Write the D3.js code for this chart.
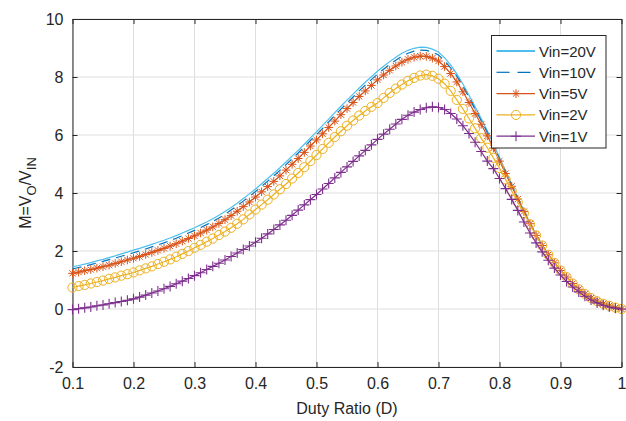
<!DOCTYPE html>
<html>
<head>
<meta charset="utf-8">
<script src="https://cdn.jsdelivr.net/npm/d3@7"></script>
<style>
  body { margin: 0; background: #fff; }
  text { font-family: "Liberation Sans", Arial, sans-serif; fill: #262626; }
</style>
</head>
<body>
<div id="chart"></div>
<script>
// duty ratio samples
var duty = [0.10,0.11,0.12,0.13,0.14,0.15,0.16,0.17,0.18,0.19,
  0.20,0.21,0.22,0.23,0.24,0.25,0.26,0.27,0.28,0.29,
  0.30,0.31,0.32,0.33,0.34,0.35,0.36,0.37,0.38,0.39,
  0.40,0.41,0.42,0.43,0.44,0.45,0.46,0.47,0.48,0.49,
  0.50,0.51,0.52,0.53,0.54,0.55,0.56,0.57,0.58,0.59,
  0.60,0.61,0.62,0.63,0.64,0.65,0.66,0.67,0.68,0.69,
  0.70,0.71,0.72,0.73,0.74,0.75,0.76,0.77,0.78,0.79,
  0.80,0.81,0.82,0.83,0.84,0.85,0.86,0.87,0.88,0.89,
  0.90,0.91,0.92,0.93,0.94,0.95,0.96,0.97,0.98,0.99,1.00];

var vin20 = [1.45,1.50,1.55,1.60,1.66,1.71,1.77,1.83,1.90,1.96,
  2.03,2.09,2.16,2.23,2.30,2.37,2.45,2.53,2.62,2.71,
  2.80,2.90,3.00,3.11,3.23,3.36,3.50,3.65,3.81,3.97,
  4.14,4.32,4.50,4.68,4.87,5.07,5.27,5.47,5.68,5.90,
  6.11,6.33,6.55,6.77,6.99,7.20,7.41,7.62,7.82,8.01,
  8.20,8.37,8.53,8.68,8.82,8.92,8.99,9.03,9.02,8.96,
  8.86,8.66,8.41,8.11,7.76,7.37,6.97,6.57,6.15,5.69,
  5.22,4.76,4.30,3.84,3.40,2.96,2.56,2.20,1.88,1.60,
  1.34,1.10,0.88,0.68,0.52,0.38,0.27,0.18,0.11,0.05,0.00];

var vin10 = [1.38,1.43,1.48,1.53,1.59,1.64,1.70,1.76,1.82,1.88,
  1.94,2.00,2.07,2.14,2.21,2.28,2.36,2.44,2.53,2.62,
  2.71,2.81,2.91,3.02,3.14,3.27,3.41,3.56,3.72,3.88,
  4.05,4.23,4.41,4.59,4.78,4.98,5.18,5.38,5.59,5.81,
  6.01,6.23,6.45,6.67,6.89,7.10,7.31,7.52,7.72,7.91,
  8.10,8.27,8.43,8.58,8.72,8.82,8.89,8.93,8.92,8.86,
  8.76,8.56,8.31,8.03,7.68,7.29,6.89,6.49,6.09,5.64,
  5.18,4.73,4.28,3.82,3.39,2.96,2.56,2.20,1.88,1.60,
  1.34,1.10,0.88,0.68,0.52,0.38,0.27,0.18,0.11,0.05,0.00];

var vin5 = [1.23,1.27,1.32,1.36,1.41,1.46,1.51,1.57,1.63,1.69,
  1.75,1.81,1.88,1.95,2.02,2.09,2.17,2.25,2.34,2.43,
  2.52,2.62,2.72,2.83,2.95,3.08,3.22,3.37,3.53,3.69,
  3.86,4.04,4.22,4.40,4.59,4.79,4.99,5.19,5.40,5.62,
  5.83,6.04,6.26,6.48,6.70,6.91,7.12,7.33,7.52,7.71,
  7.90,8.07,8.23,8.38,8.51,8.61,8.68,8.72,8.71,8.65,
  8.55,8.36,8.12,7.83,7.49,7.12,6.74,6.37,5.97,5.55,
  5.10,4.67,4.23,3.79,3.36,2.94,2.54,2.19,1.87,1.59,
  1.33,1.10,0.88,0.68,0.52,0.38,0.27,0.18,0.11,0.05,0.00];

var vin2 = [0.74,0.79,0.83,0.88,0.93,0.98,1.04,1.09,1.15,1.20,
  1.26,1.33,1.40,1.47,1.55,1.63,1.71,1.80,1.90,2.00,
  2.11,2.21,2.32,2.43,2.55,2.67,2.80,2.94,3.09,3.26,
  3.43,3.60,3.77,3.95,4.13,4.31,4.50,4.69,4.89,5.10,
  5.31,5.52,5.73,5.93,6.13,6.32,6.50,6.67,6.83,6.97,
  7.10,7.28,7.45,7.60,7.74,7.87,7.97,8.05,8.08,8.04,
  7.94,7.77,7.52,7.21,6.90,6.57,6.23,5.89,5.56,5.21,
  4.86,4.47,4.07,3.68,3.30,2.92,2.54,2.19,1.87,1.59,
  1.33,1.10,0.88,0.68,0.52,0.38,0.27,0.18,0.11,0.05,0.00];

var vin1 = [-0.02,0.01,0.04,0.07,0.11,0.14,0.18,0.22,0.26,0.30,
  0.35,0.41,0.48,0.55,0.62,0.70,0.78,0.87,0.96,1.05,
  1.15,1.25,1.36,1.47,1.58,1.69,1.81,1.93,2.05,2.17,
  2.30,2.44,2.59,2.74,2.90,3.06,3.23,3.41,3.59,3.77,
  3.95,4.14,4.33,4.52,4.71,4.90,5.09,5.28,5.47,5.66,
  5.85,6.03,6.20,6.38,6.54,6.68,6.79,6.88,6.94,6.97,
  6.95,6.88,6.74,6.55,6.32,6.05,5.75,5.43,5.10,4.84,
  4.50,4.15,3.78,3.40,3.00,2.62,2.28,1.97,1.68,1.41,
  1.17,0.95,0.76,0.59,0.44,0.31,0.21,0.13,0.07,0.03,0.00];

var seriesNames = ["Vin=20V", "Vin=10V", "Vin=5V", "Vin=2V", "Vin=1V"];
var seriesValues = [vin20, vin10, vin5, vin2, vin1];
var seriesColors = ["#4DBEEE", "#0072BD", "#D95319", "#EDB120", "#7E2F8E"];
var seriesMarkers = ["none", "none", "star", "circle", "plus"];

var xTicks = [0.1,0.2,0.3,0.4,0.5,0.6,0.7,0.8,0.9,1];
var yTicks = [-2,0,2,4,6,8,10];
var xTickLabels = ["0.1","0.2","0.3","0.4","0.5","0.6","0.7","0.8","0.9","1"];
var yTickLabels = ["-2","0","2","4","6","8","10"];

var W = 626, H = 421;
var margin = { top: 19, right: 4.5, bottom: 54, left: 72.5 };
var width = W - margin.left - margin.right;
var height = H - margin.top - margin.bottom;

var svg = d3.select("#chart").append("svg")
    .attr("width", W)
    .attr("height", H);

var g = svg.append("g")
    .attr("transform", "translate(" + margin.left + "," + margin.top + ")");

var x = d3.scaleLinear().domain([0.1, 1]).range([0, width]);
var y = d3.scaleLinear().domain([-2, 10]).range([height, 0]);

// grid
g.append("g").selectAll("line").data(xTicks).enter().append("line")
    .attr("x1", function(d) { return x(d); }).attr("x2", function(d) { return x(d); })
    .attr("y1", 0).attr("y2", height)
    .attr("stroke", "#dedede").attr("stroke-width", 1);
g.append("g").selectAll("line").data(yTicks).enter().append("line")
    .attr("y1", function(d) { return y(d); }).attr("y2", function(d) { return y(d); })
    .attr("x1", 0).attr("x2", width)
    .attr("stroke", "#dedede").attr("stroke-width", 1);

// axes (MATLAB style: ticks inside, box on)
var tickLen = 5;
var xAxis = d3.axisBottom(x).tickValues(xTicks).tickSizeInner(-tickLen).tickSizeOuter(0)
    .tickPadding(11).tickFormat(function(d, i) { return xTickLabels[i]; });
var yAxis = d3.axisLeft(y).tickValues(yTicks).tickSizeInner(-tickLen).tickSizeOuter(0)
    .tickPadding(9).tickFormat(function(d, i) { return yTickLabels[i]; });

g.append("g").attr("class", "axis").attr("transform", "translate(0," + height + ")").call(xAxis);
g.append("g").attr("class", "axis").call(yAxis);
g.append("g").attr("class", "axis").call(d3.axisTop(x).tickValues(xTicks).tickSizeInner(-tickLen).tickSizeOuter(0).tickFormat(""));
g.append("g").attr("class", "axis").attr("transform", "translate(" + width + ",0)")
    .call(d3.axisRight(y).tickValues(yTicks).tickSizeInner(-tickLen).tickSizeOuter(0).tickFormat(""));

g.selectAll(".axis").attr("font-size", 16).attr("font-family", "Liberation Sans, Arial, sans-serif");
g.selectAll(".axis path").attr("stroke", "#262626").attr("stroke-width", 1);
g.selectAll(".axis line").attr("stroke", "#262626").attr("stroke-width", 1);
g.selectAll(".axis text").style("font-size", "16px").style("fill", "#262626");

// curves
var line = d3.line()
    .x(function(d, i) { return x(duty[i]); })
    .y(function(d) { return y(d); });

function drawMarker(sel, type, color) {
    if (type === "circle") {
        sel.append("circle").attr("r", 4.6).attr("fill", "none")
            .attr("stroke", color).attr("stroke-width", 1);
    } else if (type === "star") {
        var a = 4.3, b = 3.1;
        sel.append("path")
            .attr("d", "M" + (-a) + ",0L" + a + ",0M0," + (-a) + "L0," + a +
                "M" + (-b) + "," + (-b) + "L" + b + "," + b + "M" + (-b) + "," + b + "L" + b + "," + (-b))
            .attr("stroke", color).attr("stroke-width", 1).attr("fill", "none");
    } else if (type === "plus") {
        var p = 5;
        sel.append("path")
            .attr("d", "M" + (-p) + ",0L" + p + ",0M0," + (-p) + "L0," + p)
            .attr("stroke", color).attr("stroke-width", 1.1).attr("fill", "none");
    }
}

seriesValues.forEach(function(vals, k) {
    var color = seriesColors[k];
    var path = g.append("path")
        .datum(vals)
        .attr("d", line)
        .attr("fill", "none")
        .attr("stroke", color)
        .attr("stroke-width", 1.2);
    if (k === 1) path.attr("stroke-dasharray", "9,6");

    if (seriesMarkers[k] !== "none") {
        var pts = g.append("g").selectAll("g").data(vals).enter().append("g")
            .attr("transform", function(d, i) { return "translate(" + x(duty[i]) + "," + y(d) + ")"; });
        drawMarker(pts, seriesMarkers[k], color);
    }
});

// axis labels
svg.append("text")
    .attr("x", margin.left + width / 2)
    .attr("y", 414)
    .attr("text-anchor", "middle")
    .style("font-size", "16px")
    .text("Duty Ratio (D)");

var yl = svg.append("text")
    .attr("transform", "translate(31," + (margin.top + height / 2) + ") rotate(-90)")
    .attr("text-anchor", "middle")
    .style("font-size", "16px");
yl.append("tspan").text("M=V");
yl.append("tspan").style("font-size", "13px").attr("dy", 5).text("O");
yl.append("tspan").attr("dy", -5).text("/V");
yl.append("tspan").style("font-size", "13px").attr("dy", 5).text("IN");

// legend
var lg = svg.append("g").attr("transform", "translate(491.5,35.5)");
lg.append("rect").attr("width", 114.5).attr("height", 112.5)
    .attr("fill", "#fff").attr("stroke", "#262626").attr("stroke-width", 1);

seriesNames.forEach(function(name, k) {
    var row = lg.append("g").attr("transform", "translate(0," + (15.5 + k * 21.3) + ")");
    var ln = row.append("line").attr("x1", 5).attr("x2", 43.5).attr("y1", 0).attr("y2", 0)
        .attr("stroke", seriesColors[k]).attr("stroke-width", k === 0 ? 2 : 1.2);
    if (k === 1) ln.attr("stroke-dasharray", "13,8");
    var m = row.append("g").attr("transform", "translate(24.5,0)");
    drawMarker(m, seriesMarkers[k], seriesColors[k]);
    row.append("text").attr("x", 47.5).attr("y", 5.5).style("font-size", "15px").text(name);
});
</script>
</body>
</html>
